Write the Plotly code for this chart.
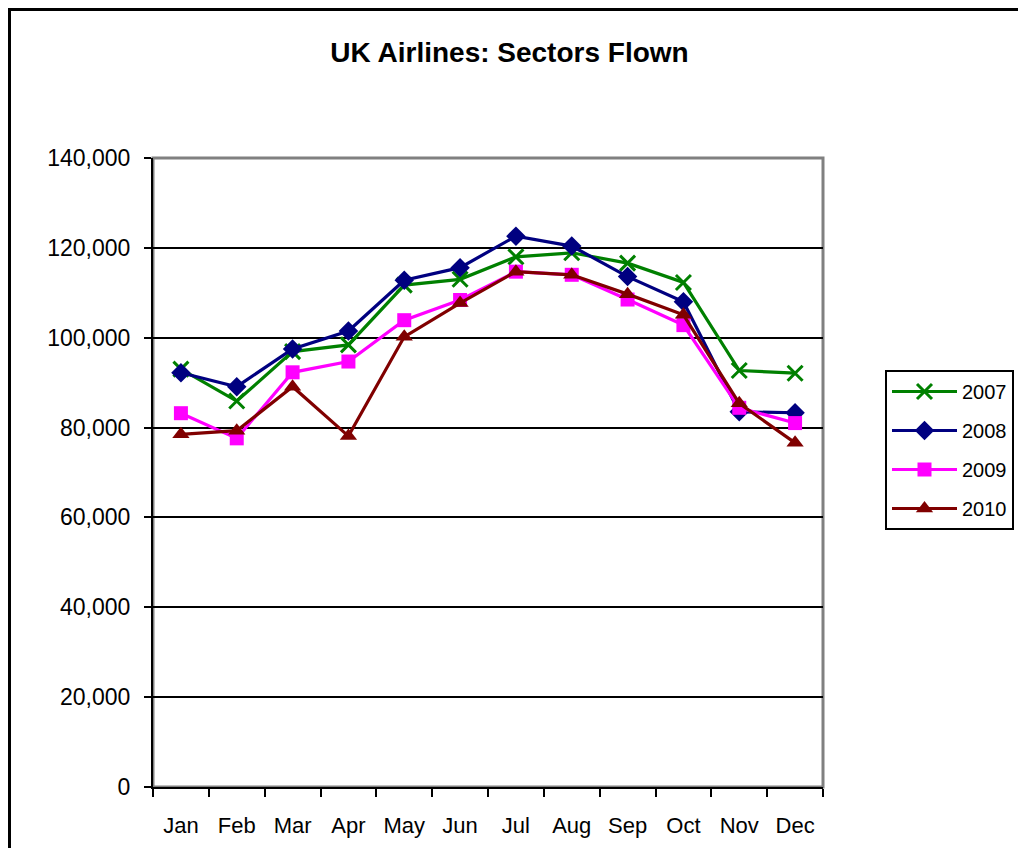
import plotly.graph_objects as go

months = ["Jan", "Feb", "Mar", "Apr", "May", "Jun", "Jul", "Aug", "Sep", "Oct", "Nov", "Dec"]
y2007 = [93000, 85900, 96900, 98400, 111700, 113000, 118000, 118900, 116600, 112300, 92700, 92100]
y2008 = [92200, 89100, 97500, 101500, 112800, 115600, 122600, 120400, 113600, 108000, 83500, 83300]
y2009 = [83200, 77600, 92300, 94700, 103900, 108400, 114700, 114000, 108500, 102800, 84400, 81000]
y2010 = [78500, 79300, 89100, 78100, 100200, 107700, 114700, 114000, 109700, 105100, 85400, 76600]

series = [
    ("2007", y2007, "#008000", "x-thin", 15),
    ("2008", y2008, "#000080", "diamond", 15),
    ("2009", y2009, "#FF00FF", "square", 14),
    ("2010", y2010, "#800000", "triangle-up", 15),
]

fig = go.Figure()
for name, vals, color, sym, size in series:
    marker = dict(symbol=sym, size=size, color=color)
    if sym == "x-thin":
        marker["line"] = dict(color=color, width=3)
    fig.add_trace(go.Scatter(
        x=months, y=vals, name=name, mode="lines+markers",
        line=dict(color=color, width=3.2), marker=marker,
        legendgroup=name,
    ))

OFF = 8  # page body margin
W, H = 1026 - OFF, 848 - OFF
# target plot-area edges in page pixels
L, R, T, B = 153, 823, 158, 787
l, r, t, b = L - OFF, W - (R - OFF), T - OFF, H - (B - OFF)

def px_x(p):
    return (p - L) / (R - L)

def px_y(p):
    return (B - p) / (B - T)

fig.update_layout(
    width=W, height=H,
    margin=dict(l=l, r=r, t=t, b=b, autoexpand=False),
    paper_bgcolor="white", plot_bgcolor="white",
    font=dict(family="Liberation Sans, Arial, sans-serif", color="black", size=22),
    title=dict(text="<b>UK Airlines: Sectors Flown</b>", x=(509.5 - OFF) / W, xref="container",
               xanchor="center", y=1 - (52 - OFF) / H, yref="container", yanchor="middle",
               font=dict(size=28, color="black")),
    showlegend=True,
    legend=dict(x=px_x(885), y=px_y(370), xanchor="left", yanchor="top",
                bordercolor="black", borderwidth=2, bgcolor="white",
                font=dict(size=20), traceorder="grouped", tracegroupgap=10,
                itemwidth=65),
    xaxis=dict(type="category", showgrid=False, showline=True, linecolor="black", linewidth=2,
               ticks="outside", tickson="boundaries", ticklen=8, tickcolor="black", tickwidth=1.5,
               ticklabelstandoff=18, tickfont=dict(size=22), range=[-0.5, 11.5], automargin=False),
    yaxis=dict(range=[0, 140000], dtick=20000, tickformat=",", showgrid=True, gridcolor="black",
               gridwidth=1.5, showline=True, linecolor="black", linewidth=2, ticks="outside",
               ticklen=7, tickcolor="black", tickwidth=1.5, ticklabelstandoff=9,
               tickfont=dict(size=23), zeroline=False, automargin=False),
    shapes=[
        dict(type="rect", xref="paper", yref="paper", x0=0, x1=1, y0=0, y1=1,
             line=dict(color="#808080", width=3), layer="below"),
        dict(type="rect", xref="paper", yref="paper", x0=px_x(OFF + 1.5), x1=px_x(1060),
             y0=px_y(880), y1=px_y(OFF + 1.5), line=dict(color="black", width=3), layer="below"),
    ],
)

fig.write_html("out.html")
